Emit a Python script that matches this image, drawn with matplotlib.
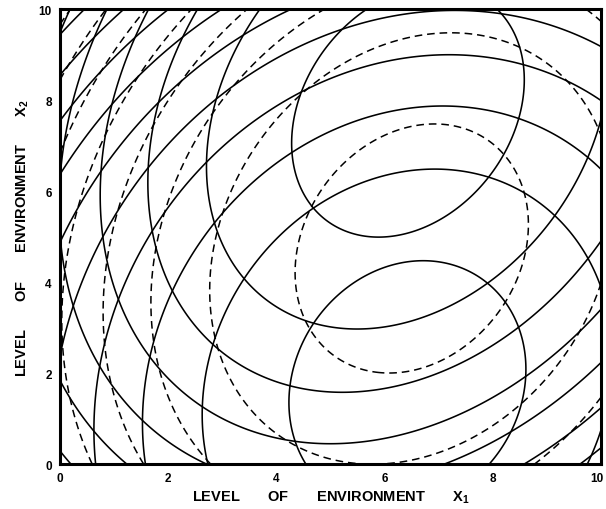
import matplotlib
matplotlib.use("Agg")
import matplotlib.pyplot as plt
from matplotlib.transforms import ScaledTranslation
import numpy as np

# response surfaces: two genotypes (solid) and their mean (dashed)
# centre, semi-axes and tilt of the unit contour of each surface
centre_x1 = [6.43, 6.42, 6.50]
centre_x2 = [7.75, 1.72, 4.74]
semi_major = [2.87, 2.79, 2.81]
semi_minor = [2.00, 2.14, 2.06]
tilt_deg = [67.5, 75.0, 70.6]

# contour levels drawn for each surface
levels_a = [1, 3, 5, 7, 9, 11, 13]
levels_b = [1, 3, 5, 7, 9, 11, 13, 15, 17, 19, 21, 23]
levels_mean = [1, 3, 5, 7, 9, 11, 13, 15, 17]

ticks = [0, 2, 4, 6, 8, 10]
x_label = "LEVEL       OF       ENVIRONMENT       X$_1$"
y_label = "LEVEL       OF       ENVIRONMENT       X$_2$"

plt.rcParams["font.family"] = ["Liberation Sans", "DejaVu Sans"]
plt.rcParams["mathtext.fontset"] = "custom"
plt.rcParams["mathtext.rm"] = "Liberation Sans:bold"
plt.rcParams["mathtext.default"] = "rm"
plt.rcParams["lines.dashed_pattern"] = [5.0, 3.2]

fig = plt.figure(figsize=(6.06, 5.10), dpi=100)
ax = fig.add_axes([0.099, 0.088, 0.893, 0.892])

grid = np.linspace(0, 10, 801)
X1, X2 = np.meshgrid(grid, grid)


def surface(i):
    t = np.radians(tilt_deg[i])
    dx = X1 - centre_x1[i]
    dy = X2 - centre_x2[i]
    u = dx * np.cos(t) + dy * np.sin(t)
    v = -dx * np.sin(t) + dy * np.cos(t)
    return (u / semi_major[i]) ** 2 + (v / semi_minor[i]) ** 2


ax.contour(X1, X2, surface(0), levels=levels_a, colors="black",
           linewidths=1.15, linestyles="solid")
ax.contour(X1, X2, surface(1), levels=levels_b, colors="black",
           linewidths=1.15, linestyles="solid")
ax.contour(X1, X2, surface(2), levels=levels_mean, colors="black",
           linewidths=1.1, linestyles="dashed")

ax.set_xlim(0, 10)
ax.set_ylim(0, 10)
ax.set_xticks(ticks)
ax.set_yticks(ticks)
ax.tick_params(length=0, labelsize=8.5)
ax.tick_params(axis="x", pad=6)
ax.tick_params(axis="y", pad=6)
for lab in ax.get_xticklabels() + ax.get_yticklabels():
    lab.set_fontweight("bold")
# last x label sits on the figure edge; keep it just inside
last = ax.get_xticklabels()[-1]
last.set_transform(last.get_transform() + ScaledTranslation(-3 / 72, 0, fig.dpi_scale_trans))
for sp in ax.spines.values():
    sp.set_linewidth(2.2)

ax.set_xlabel(x_label, fontsize=10.5, fontweight="bold", labelpad=3)
ax.set_ylabel(y_label, fontsize=10.5, fontweight="bold", labelpad=5)

fig.savefig("out.png", dpi=100)
